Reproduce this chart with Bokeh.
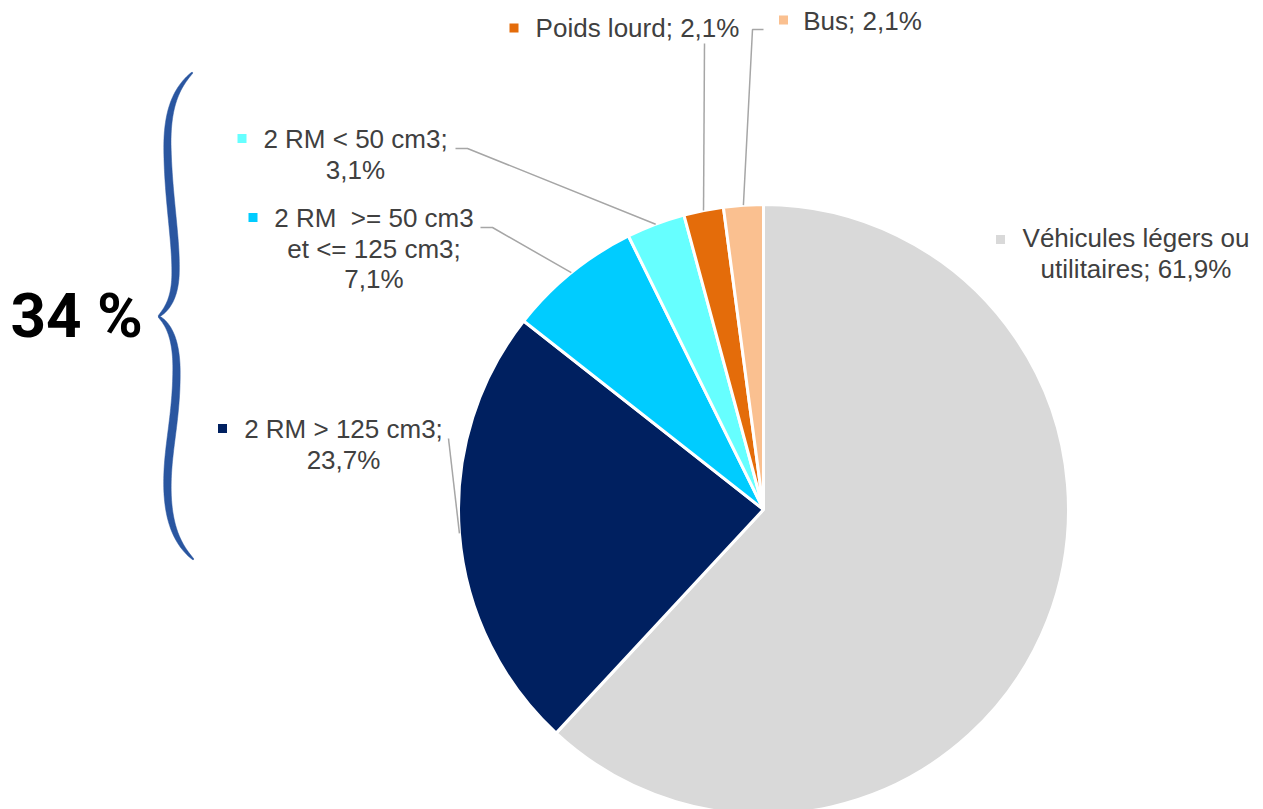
import textwrap
import numpy as np
from bokeh.plotting import figure
from bokeh.models import Range1d
from bokeh.embed import file_html
from bokeh.resources import INLINE
from bokeh.core.properties import value

# ---------------- data ----------------
categories = ["Véhicules légers ou utilitaires", "2 RM > 125 cm3",
              "2 RM  >= 50 cm3 et <= 125 cm3", "2 RM < 50 cm3",
              "Poids lourd", "Bus"]
values = [61.9, 23.7, 7.1, 3.1, 2.1, 2.1]
colors = ["#D9D9D9", "#002060", "#00CCFF", "#66FFFF", "#E46C0A", "#FAC090"]
group_label = "34 %"

# ---------------- layout (screen px, y downward) ----------------
W, H = 1263, 809
def Y(ys):
    return 809 - np.asarray(ys, dtype=float)

CX, CY, R = 763, 509, 305
wrap_width = [19, 15, 15, 14, 40, 40]
label_center = [1135.5, 343, 373.5, 355, 637, 862]
label_base = [247, 438, 227, 148, 37, 30]
marker_pos = [(1000, 239), (222, 428), (252.5, 217), (241.5, 138), (513.5, 27.5), (783, 19.5)]
leader_start = [None, [(448, 438)], [(480, 227), (492, 227)], [(455, 148), (467, 148)],
                [(704, 43)], [(763, 29), (752, 29)]]
LINE_H = 30.5
FS = 26
BASE_FIX = 0.35  # renderer places alphabetic baseline this many em lower

p = figure(width=W, height=H, x_range=Range1d(0, W), y_range=Range1d(809 - H, 809),
           output_backend="svg", toolbar_location=None, min_border=0,
           x_axis_type=None, y_axis_type=None)
p.grid.visible = False
p.outline_line_color = None
p.background_fill_color = "white"

# ---------------- pie ----------------
fr = np.array(values) / sum(values)
cum_end = np.cumsum(fr)
cum_start = cum_end - fr
start = np.radians(90 - cum_end * 360)
end = np.radians(90 - cum_start * 360)
p.wedge(x=[CX] * len(values), y=list(Y([CY] * len(values))), radius=R,
        start_angle=list(start), end_angle=list(end), direction="anticlock",
        fill_color=colors, line_color="white", line_width=3)

# ---------------- leaders ----------------
mid = np.radians(90 - (cum_start + fr / 2) * 360)
for i, st in enumerate(leader_start):
    if st is None:
        continue
    ex = CX + R * np.cos(mid[i])
    ey = CY - R * np.sin(mid[i])
    xs = [s[0] for s in st] + [ex]
    ys = [s[1] for s in st] + [ey]
    p.line(xs, list(Y(ys)), line_color="#A6A6A6", line_width=1.5)

# ---------------- labels ----------------
tx, ty, tt = [], [], []
for i, cat in enumerate(categories):
    pct = f"{values[i]:.1f}%".replace(".", ",")
    full = f"{cat}; {pct}"
    lines = textwrap.wrap(full, width=wrap_width[i])
    for j, ln in enumerate(lines):
        tx.append(label_center[i])
        ty.append(label_base[i] + j * LINE_H - BASE_FIX * FS)
        tt.append(ln.replace("  ", " \u00a0"))
p.text(x=tx, y=list(Y(ty)), text=tt, text_font=value("Liberation Sans"),
       text_font_size=f"{FS}px", text_color="#404040", text_align="center",
       text_baseline="alphabetic")
p.scatter(x=[m[0] for m in marker_pos], y=list(Y([m[1] for m in marker_pos])),
          marker="square", size=9, fill_color=colors, line_color=None)

# ---------------- brace ----------------
def cubic(p0, p1, p2, p3, n=40):
    t = np.linspace(0, 1, n)[:, None]
    p0, p1, p2, p3 = map(np.array, (p0, p1, p2, p3))
    return (1 - t) ** 3 * p0 + 3 * (1 - t) ** 2 * t * p1 + 3 * (1 - t) * t ** 2 * p2 + t ** 3 * p3

top = np.vstack([cubic((192, 72), (175, 88), (166, 110), (167, 150)),
                 cubic((167, 150), (168, 200), (176, 240), (175, 275))[1:],
                 cubic((175, 275), (174, 300), (165, 310), (158, 316))[1:]])
bot = np.vstack([cubic((158, 316), (166, 322), (176, 335), (176, 370)),
                 cubic((176, 370), (176, 420), (166, 450), (167, 490))[1:],
                 cubic((167, 490), (168, 525), (178, 545), (193, 559))[1:]])

def stroke(pts):
    s = np.linspace(0, 1, len(pts))
    w = 1.2 + 6.8 * np.sin(np.pi * s) ** 0.7
    d = np.gradient(pts, axis=0)
    d /= np.linalg.norm(d, axis=1)[:, None]
    nrm = np.column_stack([-d[:, 1], d[:, 0]])
    left = pts + nrm * (w / 2)[:, None]
    right = pts - nrm * (w / 2)[:, None]
    poly = np.vstack([left, right[::-1]])
    return list(poly[:, 0]), list(Y(poly[:, 1]))

for half in (top, bot):
    bx, by = stroke(half)
    p.patch(bx, by, fill_color="#2A56A0", line_color="#2A56A0", line_width=0.5)

BIG = 62
p.text(x=[10], y=list(Y([337 - BASE_FIX * BIG])), text=[group_label], text_font=value("Roboto"),
       text_font_size=f"{BIG}px", text_font_style="bold", text_color="black",
       text_align="left", text_baseline="alphabetic")

open("out.html", "w").write(file_html(p, INLINE))
